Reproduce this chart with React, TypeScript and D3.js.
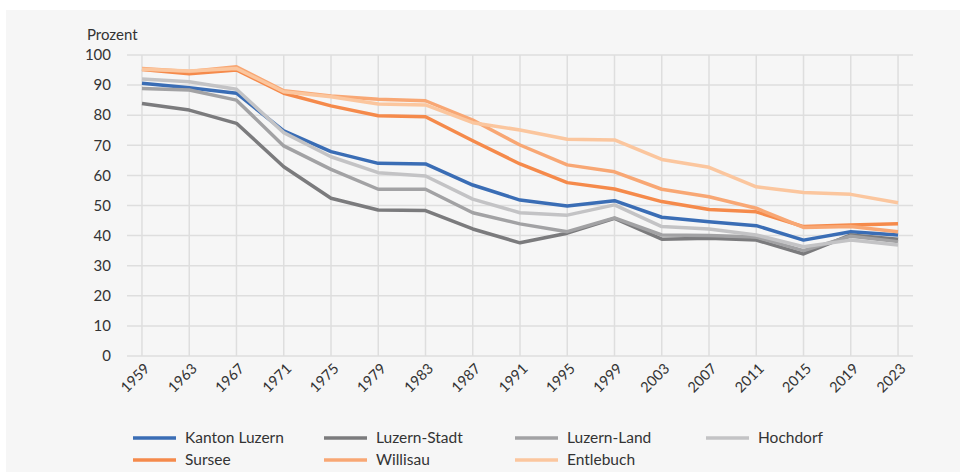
import * as d3 from "d3";
import { useEffect, useRef } from "react";

const years = ["1959", "1963", "1967", "1971", "1975", "1979", "1983", "1987", "1991", "1995", "1999", "2003", "2007", "2011", "2015", "2019", "2023"];

const kantonLuzern = [90.6, 89.1, 87.3, 74.8, 67.9, 64.0, 63.8, 56.8, 51.8, 49.8, 51.6, 46.1, 44.6, 43.3, 38.5, 41.3, 40.2];
const luzernStadt = [83.9, 81.7, 77.3, 62.9, 52.4, 48.5, 48.3, 42.2, 37.6, 40.8, 45.7, 38.8, 39.1, 38.5, 33.9, 40.2, 38.8];
const luzernLand = [88.9, 88.4, 85.0, 69.8, 62.0, 55.4, 55.4, 47.6, 43.9, 41.3, 45.9, 40.2, 40.0, 39.5, 35.0, 39.8, 38.0];
const hochdorf = [92.0, 91.1, 88.6, 74.2, 66.2, 60.9, 59.8, 52.1, 47.6, 46.8, 50.2, 43.0, 42.2, 40.2, 36.3, 38.5, 36.9];
const sursee = [95.2, 93.8, 95.0, 87.3, 83.1, 79.8, 79.5, 71.5, 63.8, 57.6, 55.5, 51.3, 48.7, 47.9, 43.0, 43.5, 43.9];
const willisau = [95.5, 94.5, 96.1, 88.1, 86.4, 85.3, 84.8, 78.4, 70.1, 63.5, 61.2, 55.4, 52.9, 49.1, 42.7, 43.0, 41.3];
const entlebuch = [95.3, 94.7, 95.5, 87.8, 86.1, 83.7, 83.4, 77.5, 75.1, 72.0, 71.8, 65.3, 62.7, 56.2, 54.3, 53.7, 50.9];

const seriesNames = ["Kanton Luzern", "Luzern-Stadt", "Luzern-Land", "Hochdorf", "Sursee", "Willisau", "Entlebuch"];
const seriesValues = [kantonLuzern, luzernStadt, luzernLand, hochdorf, sursee, willisau, entlebuch];
const seriesColors = ["#3a6db5", "#7b7b7d", "#a2a2a4", "#c3c3c5", "#f58a4b", "#f8a774", "#fbc69e"];

const yTicks = [0, 10, 20, 30, 40, 50, 60, 70, 80, 90, 100];

const FONT = "Lato, 'Open Sans', sans-serif";

export default function App() {
  const ref = useRef<SVGSVGElement>(null);

  useEffect(() => {
    const svg = d3.select(ref.current);
    svg.selectAll("*").remove();

    const width = 960;
    const height = 472;

    // background panel
    svg.append("rect").attr("width", width).attr("height", height).attr("fill", "#ffffff");
    svg.append("rect")
      .attr("x", 6)
      .attr("y", 10)
      .attr("width", width - 6)
      .attr("height", height - 10)
      .attr("fill", "#f6f6f6");

    const left = 127;
    const right = 913;
    const top = 55;
    const bottom = 356;

    const x = d3.scalePoint().domain(years).range([left, right]).padding(0.317);
    const y = d3.scaleLinear().domain([0, 100]).range([bottom, top]);

    const grid = svg.append("g");
    grid.selectAll("line.h")
      .data(yTicks)
      .join("line")
      .attr("class", "h")
      .attr("x1", left)
      .attr("x2", right)
      .attr("y1", (d) => y(d))
      .attr("y2", (d) => y(d))
      .attr("stroke", "#dedede")
      .attr("stroke-width", 1.5);

    grid.selectAll("line.v")
      .data(years)
      .join("line")
      .attr("class", "v")
      .attr("x1", (d) => x(d)!)
      .attr("x2", (d) => x(d)!)
      .attr("y1", top)
      .attr("y2", bottom)
      .attr("stroke", "#dedede")
      .attr("stroke-width", 1.5);

    // y labels
    svg.append("g")
      .selectAll("text")
      .data(yTicks)
      .join("text")
      .attr("x", 111)
      .attr("y", (d) => y(d))
      .attr("dy", "0.35em")
      .attr("text-anchor", "end")
      .style("font-family", FONT)
      .style("font-size", "15px")
      .style("fill", "#333")
      .text((d) => d);

    svg.append("text")
      .attr("x", 87)
      .attr("y", 40)
      .style("font-family", FONT)
      .style("font-size", "15px")
      .style("fill", "#333")
      .text("Prozent");

    // x labels
    svg.append("g")
      .selectAll("text")
      .data(years)
      .join("text")
      .attr("transform", (d) => `translate(${x(d)! + 5},${bottom + 10}) rotate(-45)`)
      .attr("text-anchor", "end")
      .attr("dy", "0.35em")
      .style("font-family", FONT)
      .style("font-size", "14.5px")
      .style("fill", "#333")
      .text((d) => d);

    const line = d3.line<number>()
      .x((d, i) => x(years[i])!)
      .y((d) => y(d));

    svg.append("g")
      .selectAll("path")
      .data(seriesValues)
      .join("path")
      .attr("d", (d) => line(d))
      .attr("fill", "none")
      .attr("stroke", (d, i) => seriesColors[i])
      .attr("stroke-width", 3.5)
      .attr("stroke-linejoin", "round");

    // legend
    const legend = svg.append("g");
    const cols = 4;
    const items = legend.selectAll("g")
      .data(seriesNames)
      .join("g")
      .attr("transform", (d, i) => `translate(${133 + (i % cols) * 191},${438 + Math.floor(i / cols) * 22})`);

    items.append("line")
      .attr("x1", 0)
      .attr("x2", 43)
      .attr("stroke", (d, i) => seriesColors[i])
      .attr("stroke-width", 3.5);

    items.append("text")
      .attr("x", 52)
      .attr("dy", "0.35em")
      .style("font-family", FONT)
      .style("font-size", "15.5px")
      .style("fill", "#333")
      .text((d) => d);
  }, []);

  return (
    <div style={{ position: "fixed", left: 0, top: 0 }}>
      <svg ref={ref} width={960} height={472} style={{ display: "block" }} />
    </div>
  );
}
